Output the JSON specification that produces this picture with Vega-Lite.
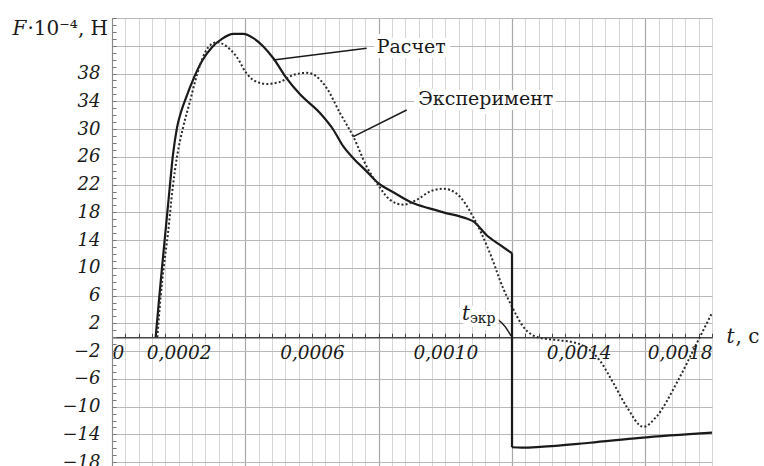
{
  "$schema": "https://vega.github.io/schema/vega-lite/v6.json",
  "width": 600,
  "height": 448,
  "autosize": {"type": "none"},
  "padding": {"left": 112, "top": 18, "right": 52, "bottom": 0},
  "background": "white",
  "config": {"view": {"stroke": null}, "axis": {"labelFont": "DejaVu Serif", "titleFont": "DejaVu Serif"}},
  "datasets": {
    "calc": [
      {"t": 0.000131, "F": 0, "seg": "a"},
      {"t": 0.000142, "F": 5.9, "seg": "a"},
      {"t": 0.00015, "F": 10, "seg": "a"},
      {"t": 0.00016, "F": 15, "seg": "a"},
      {"t": 0.000172, "F": 21, "seg": "a"},
      {"t": 0.000183, "F": 26.3, "seg": "a"},
      {"t": 0.000195, "F": 30.2, "seg": "a"},
      {"t": 0.000208, "F": 32.6, "seg": "a"},
      {"t": 0.000222, "F": 34.5, "seg": "a"},
      {"t": 0.000245, "F": 37.3, "seg": "a"},
      {"t": 0.00027, "F": 39.8, "seg": "a"},
      {"t": 0.0003, "F": 41.8, "seg": "a"},
      {"t": 0.00033, "F": 43.0, "seg": "a"},
      {"t": 0.000364, "F": 43.7, "seg": "a"},
      {"t": 0.000394, "F": 43.7, "seg": "a"},
      {"t": 0.000424, "F": 43.1, "seg": "a"},
      {"t": 0.000454, "F": 41.9, "seg": "a"},
      {"t": 0.000484, "F": 40.2, "seg": "a"},
      {"t": 0.000524, "F": 37.3, "seg": "a"},
      {"t": 0.000564, "F": 35, "seg": "a"},
      {"t": 0.000624, "F": 32.3, "seg": "a"},
      {"t": 0.000664, "F": 29.9, "seg": "a"},
      {"t": 0.000694, "F": 27.5, "seg": "a"},
      {"t": 0.000724, "F": 25.8, "seg": "a"},
      {"t": 0.000764, "F": 23.9, "seg": "a"},
      {"t": 0.000799, "F": 22.2, "seg": "a"},
      {"t": 0.000844, "F": 20.9, "seg": "a"},
      {"t": 0.000904, "F": 19.3, "seg": "a"},
      {"t": 0.00095, "F": 18.6, "seg": "a"},
      {"t": 0.000994, "F": 18, "seg": "a"},
      {"t": 0.001064, "F": 17.1, "seg": "a"},
      {"t": 0.001084, "F": 16.7, "seg": "a"},
      {"t": 0.001124, "F": 14.7, "seg": "a"},
      {"t": 0.001164, "F": 13.3, "seg": "a"},
      {"t": 0.0012, "F": 12.1, "seg": "a"},
      {"t": 0.0012, "F": -15.85, "seg": "c"},
      {"t": 0.00123, "F": -15.9, "seg": "c"},
      {"t": 0.001284, "F": -15.8, "seg": "c"},
      {"t": 0.001434, "F": -15.2, "seg": "c"},
      {"t": 0.001584, "F": -14.5, "seg": "c"},
      {"t": 0.0018, "F": -13.75, "seg": "c"}
    ],
    "drop": [{"t": 0.0012, "F": 12.1, "F2": -15.85}],
    "exp": [
      {"t": 0.000136, "F": 0},
      {"t": 0.000146, "F": 5.9},
      {"t": 0.000155, "F": 10},
      {"t": 0.000168, "F": 15},
      {"t": 0.000182, "F": 21.5},
      {"t": 0.000195, "F": 26},
      {"t": 0.000212, "F": 30},
      {"t": 0.000234, "F": 34},
      {"t": 0.000256, "F": 38},
      {"t": 0.000289, "F": 41.8},
      {"t": 0.000314, "F": 42.5},
      {"t": 0.000344, "F": 41.9},
      {"t": 0.000374, "F": 40.4},
      {"t": 0.000404, "F": 38},
      {"t": 0.000434, "F": 36.8},
      {"t": 0.000464, "F": 36.5},
      {"t": 0.000504, "F": 36.8},
      {"t": 0.000544, "F": 37.8},
      {"t": 0.000584, "F": 38.1},
      {"t": 0.00061, "F": 37.7},
      {"t": 0.000644, "F": 35.9},
      {"t": 0.000684, "F": 32.3},
      {"t": 0.000724, "F": 28.9},
      {"t": 0.000764, "F": 24.6},
      {"t": 0.000799, "F": 21.9},
      {"t": 0.000834, "F": 19.8},
      {"t": 0.000874, "F": 19.1},
      {"t": 0.000914, "F": 19.8},
      {"t": 0.000954, "F": 21},
      {"t": 0.000994, "F": 21.4},
      {"t": 0.001034, "F": 20.7},
      {"t": 0.001084, "F": 17.3},
      {"t": 0.001134, "F": 12.1},
      {"t": 0.001174, "F": 7},
      {"t": 0.0012, "F": 4.4},
      {"t": 0.001234, "F": 1.5},
      {"t": 0.001284, "F": -0.1},
      {"t": 0.001334, "F": -0.4},
      {"t": 0.00139, "F": -0.8},
      {"t": 0.00143, "F": -1.7},
      {"t": 0.001464, "F": -3.4},
      {"t": 0.001504, "F": -6.6},
      {"t": 0.001544, "F": -10},
      {"t": 0.001594, "F": -12.9},
      {"t": 0.001634, "F": -11.4},
      {"t": 0.001694, "F": -6.6},
      {"t": 0.001754, "F": -0.9},
      {"t": 0.0018, "F": 3.5}
    ],
    "leaders": [
      {"t": 0.000484, "F": 39.96, "t2": 0.000764, "F2": 41.64},
      {"t": 0.000724, "F": 28.9, "t2": 0.000884, "F2": 32.75}
    ],
    "tleader": [
      {"t": 0.001158, "F": 2.56},
      {"t": 0.00118, "F": 1.5},
      {"t": 0.001197, "F": 0.2}
    ],
    "labels": [
      {"text": "Расчет", "t": 0.000794, "F": 40.9, "kind": "big"},
      {"text": "Эксперимент", "t": 0.000919, "F": 33.5, "kind": "big"},
      {"text": "t", "t": 0.00105, "F": 2.5, "kind": "ital"},
      {"text": "экр", "t": 0.001074, "F": 2.06, "kind": "sub"}
    ]
  },
  "layer": [
    {
      "data": {"name": "calc"},
      "mark": {"type": "line", "interpolate": "monotone", "color": "#1a1a1a", "strokeWidth": 2.2},
      "encoding": {
        "x": {"field": "t", "type": "quantitative", "scale": {"domain": [0, 0.0018], "nice": false, "zero": false},
          "axis": {"orient": "bottom", "values": [0,0.00004,0.00008,0.00012,0.00016,0.0002,0.00024,0.00028,0.00032,0.00036,0.0004,0.00044,0.00048,0.00052,0.00056,0.0006,0.00064,0.00068,0.00072,0.00076,0.0008,0.00084,0.00088,0.00092,0.00096,0.001,0.00104,0.00108,0.00112,0.00116,0.0012,0.00124,0.00128,0.00132,0.00136,0.0014,0.00144,0.00148,0.00152,0.00156,0.0016,0.00164,0.00168,0.00172,0.00176,0.0018],
            "grid": true, "gridColor": "#d6d6d6", "gridWidth": 1, "ticks": false, "labels": false, "domain": false, "title": null}},
        "y": {"field": "F", "type": "quantitative", "scale": {"domain": [-18.55, 46], "nice": false, "zero": false},
          "axis": {"orient": "left", "values": [-18,-17,-16,-15,-14,-13,-12,-11,-10,-9,-8,-7,-6,-5,-4,-3,-2,-1,0,1,2,3,4,5,6,7,8,9,10,11,12,13,14,15,16,17,18,19,20,21,22,23,24,25,26,27,28,29,30,31,32,33,34,35,36,37,38,39,40,41,42,43,44,45,46],
            "grid": false, "ticks": true, "tickSize": -4, "tickColor": "#777", "tickWidth": 1, "labels": false, "domain": true, "domainColor": "#888", "domainWidth": 1,
            "title": "F", "titleFontStyle": "italic", "titleFontWeight": "normal", "titleFontSize": 20, "titleColor": "#1a1a1a", "titleAngle": 0, "titleAlign": "left", "titleBaseline": "alphabetic", "titleX": -100, "titleY": 16}},
        "detail": {"field": "seg"}
      }
    },
    {
      "data": {"name": "exp"},
      "mark": {"type": "line", "interpolate": "monotone", "color": "#2a2a2a", "strokeWidth": 2, "strokeDash": [2, 2.2]},
      "encoding": {
        "x": {"field": "t", "type": "quantitative", "scale": {"domain": [0, 0.0018], "nice": false, "zero": false},
          "axis": {"orient": "bottom", "values": [0, 0.0004, 0.0008, 0.0012, 0.0016], "grid": true, "gridColor": "#a8a8a8", "gridWidth": 1.2, "ticks": false, "labels": false, "domain": false, "title": null}},
        "y": {"field": "F", "type": "quantitative", "scale": {"domain": [-18.55, 46], "nice": false, "zero": false},
          "axis": {"orient": "left", "values": [-18,-14,-10,-6,-2,2,6,10,14,18,22,26,30,34,38,42,46],
            "grid": true, "gridColor": "#b8b8b8", "gridWidth": 1, "ticks": false, "domain": false,
            "labelExpr": "datum.value > 40 ? '' : datum.label", "labelFontStyle": "italic", "labelFontSize": 18, "labelColor": "#1a1a1a", "labelPadding": 12,
            "title": "·10⁻⁴, Н", "titleFontWeight": "normal", "titleFontSize": 20, "titleColor": "#1a1a1a", "titleAngle": 0, "titleAlign": "left", "titleBaseline": "alphabetic", "titleX": -85, "titleY": 16}}
      }
    },
    {
      "data": {"name": "drop"},
      "mark": {"type": "rule", "color": "#1a1a1a", "strokeWidth": 2.2},
      "encoding": {
        "x": {"field": "t", "type": "quantitative", "scale": {"domain": [0, 0.0018], "nice": false, "zero": false},
          "axis": {"orient": "bottom", "offset": -128.74, "values": [0,0.00004,0.00008,0.00012,0.00016,0.0002,0.00024,0.00028,0.00032,0.00036,0.0004,0.00044,0.00048,0.00052,0.00056,0.0006,0.00064,0.00068,0.00072,0.00076,0.0008,0.00084,0.00088,0.00092,0.00096,0.001,0.00104,0.00108,0.00112,0.00116,0.0012,0.00124,0.00128,0.00132,0.00136,0.0014,0.00144,0.00148,0.00152,0.00156,0.0016,0.00164,0.00168,0.00172,0.00176,0.0018],
            "grid": false, "ticks": true, "tickSize": -4, "tickColor": "#444", "tickWidth": 1, "labels": false, "domain": true, "domainColor": "#444", "domainWidth": 1.5,
            "title": "t", "titleFontStyle": "italic", "titleFontWeight": "normal", "titleFontSize": 20, "titleColor": "#1a1a1a", "titleAlign": "left", "titleBaseline": "alphabetic", "titleX": 614, "titleY": 5}},
        "y": {"field": "F", "type": "quantitative", "scale": {"domain": [-18.55, 46], "nice": false, "zero": false}, "axis": null},
        "y2": {"field": "F2"}
      }
    },
    {
      "data": {"name": "leaders"},
      "mark": {"type": "rule", "color": "#1a1a1a", "strokeWidth": 1.5},
      "encoding": {
        "x": {"field": "t", "type": "quantitative", "scale": {"domain": [0, 0.0018], "nice": false, "zero": false},
          "axis": {"orient": "bottom", "offset": -128.74, "values": [0, 0.0002, 0.0006, 0.001, 0.0014, 0.0018],
            "grid": false, "ticks": false, "domain": false, "labelFlush": true, "labelPadding": 6,
            "labelExpr": "datum.value == 0 ? '0' : replace(format(datum.value, '.4f'), '.', ',')",
            "labelFontStyle": "italic", "labelFontSize": 18.5, "labelColor": "#1a1a1a",
            "title": ", с", "titleFontWeight": "normal", "titleFontSize": 20, "titleColor": "#1a1a1a", "titleAlign": "left", "titleBaseline": "alphabetic", "titleX": 623, "titleY": 5}},
        "y": {"field": "F", "type": "quantitative", "scale": {"domain": [-18.55, 46], "nice": false, "zero": false}, "axis": null},
        "x2": {"field": "t2"},
        "y2": {"field": "F2"}
      }
    },
    {
      "data": {"name": "tleader"},
      "mark": {"type": "line", "interpolate": "monotone", "color": "#1a1a1a", "strokeWidth": 1.5},
      "encoding": {
        "x": {"field": "t", "type": "quantitative", "scale": {"domain": [0, 0.0018], "nice": false, "zero": false}, "axis": null},
        "y": {"field": "F", "type": "quantitative", "scale": {"domain": [-18.55, 46], "nice": false, "zero": false}, "axis": null}
      }
    },
    {
      "data": {"name": "labels"},
      "transform": [{"filter": "datum.kind == 'big'"}],
      "mark": {"type": "text", "font": "DejaVu Serif", "fontSize": 19, "align": "left", "baseline": "alphabetic", "fill": "white", "stroke": "white", "strokeWidth": 10, "strokeJoin": "round"},
      "encoding": {
        "x": {"field": "t", "type": "quantitative", "scale": {"domain": [0, 0.0018], "nice": false, "zero": false}, "axis": null},
        "y": {"field": "F", "type": "quantitative", "scale": {"domain": [-18.55, 46], "nice": false, "zero": false}, "axis": null},
        "text": {"field": "text"}
      }
    },
    {
      "data": {"name": "labels"},
      "transform": [{"filter": "datum.kind == 'big'"}],
      "mark": {"type": "text", "font": "DejaVu Serif", "fontSize": 19, "align": "left", "baseline": "alphabetic", "fill": "#1a1a1a"},
      "encoding": {
        "x": {"field": "t", "type": "quantitative", "scale": {"domain": [0, 0.0018], "nice": false, "zero": false}, "axis": null},
        "y": {"field": "F", "type": "quantitative", "scale": {"domain": [-18.55, 46], "nice": false, "zero": false}, "axis": null},
        "text": {"field": "text"}
      }
    },
    {
      "data": {"name": "labels"},
      "transform": [{"filter": "datum.kind == 'ital'"}],
      "mark": {"type": "text", "font": "DejaVu Serif", "fontSize": 20, "fontStyle": "italic", "align": "left", "baseline": "alphabetic", "fill": "white", "stroke": "white", "strokeWidth": 8, "strokeJoin": "round"},
      "encoding": {
        "x": {"field": "t", "type": "quantitative", "scale": {"domain": [0, 0.0018], "nice": false, "zero": false}, "axis": null},
        "y": {"field": "F", "type": "quantitative", "scale": {"domain": [-18.55, 46], "nice": false, "zero": false}, "axis": null},
        "text": {"field": "text"}
      }
    },
    {
      "data": {"name": "labels"},
      "transform": [{"filter": "datum.kind == 'sub'"}],
      "mark": {"type": "text", "font": "DejaVu Serif", "fontSize": 14, "align": "left", "baseline": "alphabetic", "fill": "white", "stroke": "white", "strokeWidth": 8, "strokeJoin": "round"},
      "encoding": {
        "x": {"field": "t", "type": "quantitative", "scale": {"domain": [0, 0.0018], "nice": false, "zero": false}, "axis": null},
        "y": {"field": "F", "type": "quantitative", "scale": {"domain": [-18.55, 46], "nice": false, "zero": false}, "axis": null},
        "text": {"field": "text"}
      }
    },
    {
      "data": {"name": "labels"},
      "transform": [{"filter": "datum.kind == 'ital'"}],
      "mark": {"type": "text", "font": "DejaVu Serif", "fontSize": 20, "fontStyle": "italic", "align": "left", "baseline": "alphabetic", "fill": "#1a1a1a"},
      "encoding": {
        "x": {"field": "t", "type": "quantitative", "scale": {"domain": [0, 0.0018], "nice": false, "zero": false}, "axis": null},
        "y": {"field": "F", "type": "quantitative", "scale": {"domain": [-18.55, 46], "nice": false, "zero": false}, "axis": null},
        "text": {"field": "text"}
      }
    },
    {
      "data": {"name": "labels"},
      "transform": [{"filter": "datum.kind == 'sub'"}],
      "mark": {"type": "text", "font": "DejaVu Serif", "fontSize": 14, "align": "left", "baseline": "alphabetic", "fill": "#1a1a1a"},
      "encoding": {
        "x": {"field": "t", "type": "quantitative", "scale": {"domain": [0, 0.0018], "nice": false, "zero": false}, "axis": null},
        "y": {"field": "F", "type": "quantitative", "scale": {"domain": [-18.55, 46], "nice": false, "zero": false}, "axis": null},
        "text": {"field": "text"}
      }
    }
  ],
  "resolve": {"axis": {"x": "independent", "y": "independent"}}
}
